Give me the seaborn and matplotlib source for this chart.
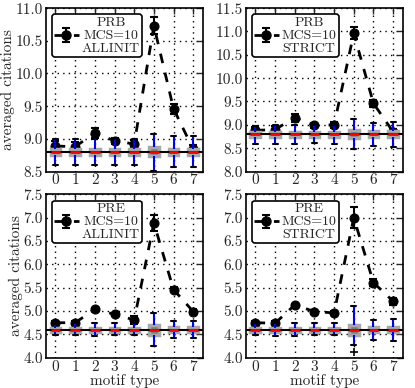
import numpy as np
import pandas as pd
import matplotlib
matplotlib.use("Agg")
import matplotlib.pyplot as plt
import seaborn as sns

sns.set_style("white")
plt.rcParams["font.family"] = ["cmr10", "DejaVu Serif"]
plt.rcParams["axes.formatter.use_mathtext"] = True
plt.rcParams["mathtext.fontset"] = "cm"

motifs = [0, 1, 2, 3, 4, 5, 6, 7]
titles = ["PRB\nMCS=10\nALLINIT", "PRB\nMCS=10\nSTRICT",
          "PRE\nMCS=10\nALLINIT", "PRE\nMCS=10\nSTRICT"]

# observed values and their errors
obs_prb_all = [8.89, 8.88, 9.09, 8.97, 8.92, 10.73, 9.46, 8.84]
err_prb_all = [0.07, 0.07, 0.08, 0.05, 0.06, 0.13, 0.08, 0.06]
obs_prb_str = [8.88, 8.90, 9.15, 8.99, 9.00, 10.96, 9.46, 8.85]
err_prb_str = [0.07, 0.07, 0.08, 0.05, 0.06, 0.13, 0.08, 0.06]
obs_pre_all = [4.75, 4.75, 5.04, 4.93, 4.81, 6.89, 5.46, 4.99]
err_pre_all = [0.04, 0.04, 0.03, 0.03, 0.08, 0.17, 0.06, 0.05]
obs_pre_str = [4.75, 4.74, 5.13, 4.99, 4.96, 7.00, 5.61, 5.21]
err_pre_str = [0.04, 0.04, 0.03, 0.03, 0.04, 0.22, 0.08, 0.07]

# null-model box statistics: low whisker, q1, median, q3, high whisker
null_prb_all_low = [8.60, 8.60, 8.60, 8.60, 8.60, 8.51, 8.57, 8.57]
null_prb_all_q1 = [8.76, 8.76, 8.76, 8.76, 8.76, 8.73, 8.75, 8.75]
null_prb_all_med = [8.80] * 8
null_prb_all_q3 = [8.84, 8.84, 8.84, 8.84, 8.84, 8.87, 8.85, 8.85]
null_prb_all_high = [9.00, 9.00, 9.00, 9.00, 9.00, 9.08, 9.04, 9.04]

null_prb_str_low = [8.59, 8.59, 8.60, 8.61, 8.60, 8.48, 8.55, 8.53]
null_prb_str_q1 = [8.75, 8.75, 8.75, 8.75, 8.75, 8.72, 8.74, 8.74]
null_prb_str_med = [8.80] * 8
null_prb_str_q3 = [8.85, 8.85, 8.85, 8.85, 8.85, 8.88, 8.86, 8.86]
null_prb_str_high = [8.98, 9.00, 9.00, 9.00, 9.00, 9.12, 9.04, 9.06]

null_pre_all_low = [4.49, 4.48, 4.47, 4.48, 4.49, 4.26, 4.43, 4.43]
null_pre_all_q1 = [4.56, 4.56, 4.56, 4.56, 4.56, 4.49, 4.55, 4.55]
null_pre_all_med = [4.60] * 8
null_pre_all_q3 = [4.64, 4.64, 4.64, 4.64, 4.64, 4.71, 4.65, 4.65]
null_pre_all_high = [4.72, 4.74, 4.75, 4.75, 4.74, 4.96, 4.78, 4.79]

null_pre_str_low = [4.48, 4.47, 4.47, 4.48, 4.48, 4.28, 4.38, 4.36]
null_pre_str_q1 = [4.56, 4.56, 4.56, 4.56, 4.56, 4.49, 4.55, 4.55]
null_pre_str_med = [4.60] * 8
null_pre_str_q3 = [4.64, 4.64, 4.64, 4.64, 4.64, 4.71, 4.65, 4.65]
null_pre_str_high = [4.74, 4.74, 4.75, 4.75, 4.75, 5.10, 4.81, 4.83]

flier_pre_str_x = [5]
flier_pre_str_y = [4.12]

null_means = [8.80, 8.80, 4.60, 4.60]
ylims = [(8.5, 11.0), (8.0, 11.5), (4.0, 7.5), (4.0, 7.5)]

panels = [
    (obs_prb_all, err_prb_all, [null_prb_all_low, null_prb_all_q1, null_prb_all_med, null_prb_all_q3, null_prb_all_high], [], []),
    (obs_prb_str, err_prb_str, [null_prb_str_low, null_prb_str_q1, null_prb_str_med, null_prb_str_q3, null_prb_str_high], [], []),
    (obs_pre_all, err_pre_all, [null_pre_all_low, null_pre_all_q1, null_pre_all_med, null_pre_all_q3, null_pre_all_high], [], []),
    (obs_pre_str, err_pre_str, [null_pre_str_low, null_pre_str_q1, null_pre_str_med, null_pre_str_q3, null_pre_str_high], flier_pre_str_x, flier_pre_str_y),
]

fig, axes = plt.subplots(2, 2, figsize=(4.15, 3.88), dpi=100)
fig.subplots_adjust(left=0.110, right=0.971, top=0.979, bottom=0.078,
                    wspace=0.27, hspace=0.14)

DOTS = (1, 3)

for i, ax in enumerate(axes.flat):
    obs, err, stats, fx, fy = panels[i]
    rows = []
    for j, m in enumerate(motifs):
        for s in stats:
            rows.append({"motif": m, "val": s[j]})
    df = pd.DataFrame(rows)

    ax.set_axisbelow(True)

    # observed values
    sns.lineplot(x=motifs, y=obs, ax=ax, color="black", linewidth=2,
                 linestyle="--", dashes=False, marker="o", markersize=6.5,
                 markeredgecolor="black", zorder=1.5)
    for ln in ax.lines:
        ln.set_dashes((3.5, 3.5))
    ax.errorbar(motifs, obs, yerr=err, fmt="none", ecolor="black",
                elinewidth=1.5, capsize=3, capthick=1.5, zorder=1.5)

    # null model boxes
    sns.boxplot(data=df, x="motif", y="val", ax=ax, whis=(0, 100), width=0.5,
                fliersize=0, color="#8c8c8c",
                boxprops=dict(facecolor="#808080", edgecolor="#a8a8a8", linewidth=2.5, zorder=2),
                medianprops=dict(color="red", linewidth=2, zorder=3),
                whiskerprops=dict(color="blue", linewidth=1.5, zorder=2),
                capprops=dict(color="black", linewidth=1.5, zorder=2))
    if fx:
        sns.scatterplot(x=fx, y=fy, ax=ax, marker="+", color="black", s=30,
                        linewidth=1.2, zorder=3)
    ax.axhline(null_means[i], color="black", linewidth=1.5, zorder=2.5)

    ax.set_xlim(-0.5, 7.5)
    ax.set_ylim(*ylims[i])
    yt = np.arange(ylims[i][0], ylims[i][1] + 0.01, 0.5)
    ax.set_yticks(yt)
    ax.set_yticklabels([f"{v:.1f}" for v in yt])
    ax.set_xticks(motifs)
    ax.set_xticklabels([str(m) for m in motifs])
    ax.tick_params(direction="in", top=True, right=True, length=4, width=1,
                   labelsize=11)
    ax.tick_params(axis="x", pad=1.5)
    ax.tick_params(axis="y", pad=2)
    ax.grid(True, which="major", axis="both", color="black", linewidth=1.0,
            linestyle=(0, DOTS))
    for sp in ax.spines.values():
        sp.set_visible(True)
        sp.set_color("black")
        sp.set_linewidth(1.2)

    ax.set_xlabel("motif type" if i >= 2 else "", fontsize=11, labelpad=0)
    ax.set_ylabel("averaged citations" if i % 2 == 0 else "", fontsize=11, labelpad=0.5)

    proxy = ax.errorbar([np.nan], [np.nan], yerr=[0.1], fmt="o", color="black",
                        linestyle="--", linewidth=2, markersize=6.5,
                        elinewidth=1.5, capsize=3, capthick=1.5)
    proxy.lines[0].set_dashes((3.5, 3.5))
    leg = ax.legend(handles=[proxy], labels=[titles[i]], loc="upper left",
                    fontsize=10, handlelength=1.8, borderpad=0.15,
                    labelspacing=0.2, handletextpad=0.2, borderaxespad=0.45,
                    frameon=True, fancybox=True, framealpha=1)
    leg.get_frame().set_edgecolor("black")
    leg.get_frame().set_linewidth(1.2)
    for t in leg.get_texts():
        t.set_multialignment("center")
        t.set_linespacing(1.1)

fig.savefig("out.png", dpi=100)
